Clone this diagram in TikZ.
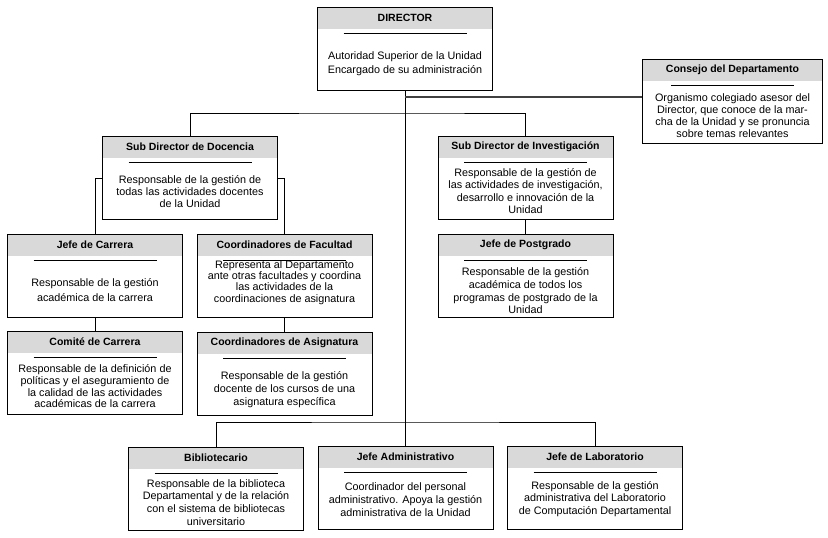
\documentclass[tikz,border=0pt]{standalone}
\usepackage{fontspec}
\setmainfont{Liberation Sans}
\definecolor{hdr}{RGB}{217,217,217}
\tikzset{
  orgbox/.style={draw=black, line width=0.9pt, minimum width=175pt, minimum height=83pt, inner sep=0pt,
    path picture={
      \fill[hdr] (path picture bounding box.north west) rectangle ([yshift=-21.5pt]path picture bounding box.north east);
      \draw[line width=0.9pt] ([xshift=-61.5pt,yshift=-26pt]path picture bounding box.north) -- ([xshift=61.5pt,yshift=-26pt]path picture bounding box.north);
    }},
  ttl/.style={font=\bfseries\fontsize{10.5}{12}\selectfont, inner sep=0pt},
  bodytxt/.style={align=center, inner sep=0pt},
  conn/.style={draw=black, line width=0.9pt},
  thickconn/.style={draw=black!75, line width=1.6pt},
}
\newcommand{\unitbox}[7]{%
  \node[orgbox,#7] (#1) at (#2) {};
  \node[ttl] (#1-t) at ([yshift=-11pt]#1.north) {#3};
  \node[bodytxt,font=\fontsize{10.8}{#6}\selectfont] (#1-b) at (#1.center |- 0,#5) {#4};
}
\begin{document}
\begin{tikzpicture}[x=1pt,y=-1pt]
\useasboundingbox (0,0) rectangle (828,538);
\fill[white] (0,0) rectangle (828,538);

\unitbox{dir}{405,48.5}{DIRECTOR}{Autoridad Superior de la Unidad\\Encargado de su administración}{64}{14}{}
\unitbox{cons}{732.5,101}{Consejo del Departamento}{Organismo colegiado asesor del\\Director, que conoce de la mar-\\cha de la Unidad y se pronuncia\\sobre temas relevantes}{116}{12}{minimum width=180pt,minimum height=84pt}
\unitbox{sdd}{190,178}{Sub Director de Docencia}{Responsable de la gestión de\\todas las actividades docentes\\de la Unidad}{191.5}{12}{}
\unitbox{sdi}{525.5,178}{Sub Director de Investigación}{Responsable de la gestión de\\las actividades de investigación,\\desarrollo e innovación de la\\Unidad}{191}{12.2}{}
\unitbox{jc}{95,275.5}{Jefe de Carrera}{Responsable de la gestión\\académica de la carrera}{290.5}{15}{}
\unitbox{cf}{284.5,275.5}{Coordinadores de Facultad}{Representa al Departamento\\ante otras facultades y coordina\\las actividades de la\\coordinaciones de asignatura}{282.5}{11.3}{}
\unitbox{jp}{525.5,275.5}{Jefe de Postgrado}{Responsable de la gestión\\académica de todos los\\programas de postgrado de la\\Unidad}{290.7}{12.8}{}
\unitbox{cc}{95,373}{Comité de Carrera}{Responsable de la definición de\\políticas y el aseguramiento de\\la calidad de las actividades\\académicas de la carrera}{386.5}{11.7}{}
\unitbox{ca}{284.5,373.5}{Coordinadores de Asignatura}{Responsable de la gestión\\docente de los cursos de una\\asignatura específica}{389.7}{13}{}
\unitbox{bib}{216,488.5}{Bibliotecario}{Responsable de la biblioteca\\Departamental y de la relación\\con el sistema de bibliotecas\\universitario}{502.5}{12.8}{}
\unitbox{ja}{405.5,488}{Jefe Administrativo}{Coordinador del personal\\administrativo. Apoya la gestión\\administrativa de la Unidad}{499.7}{12.8}{}
\unitbox{jl}{595,488}{Jefe de Laboratorio}{Responsable de la gestión\\administrativa del Laboratorio\\de Computación Departamental}{499.1}{12.5}{}

% connectors
\draw[conn] (dir.south) -- (dir.south |- ja.north);
\coordinate (cj) at (405,97);
\draw[thickconn] (cj) -- (cj -| cons.west);
\coordinate (b1) at (405,113);
\draw[conn] (sdd.north) |- (b1) -| (sdi.north);
\draw[conn] (sdd.west) -| (jc.north);
\draw[conn] (sdd.east) -| (cf.north);
\draw[conn] (sdi.south) -- (jp.north);
\draw[conn] (jc.south) -- (cc.north);
\draw[conn] (cf.south) -- (ca.north);
\coordinate (b2) at (405,422);
\draw[conn] (bib.north) |- (b2) -| (jl.north);
\end{tikzpicture}
\end{document}
